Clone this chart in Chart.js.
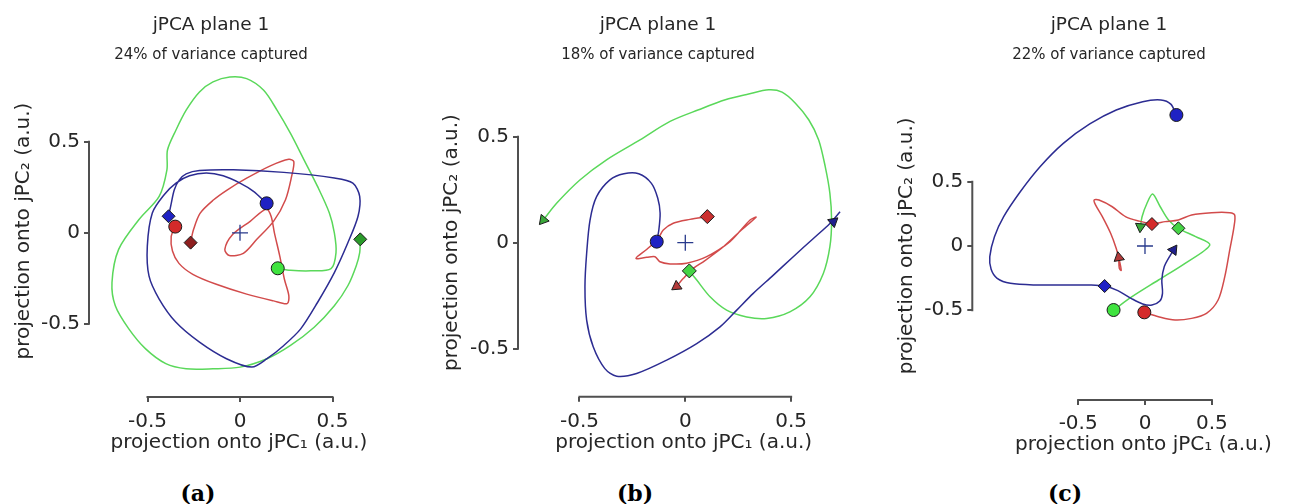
<!DOCTYPE html>
<html>
<head>
<meta charset="utf-8">
<script src="https://cdn.jsdelivr.net/npm/chart.js@4.4.1/dist/chart.umd.min.js"></script>
<style>
  html, body { margin: 0; padding: 0; background: #fff; }
  #fig { position: relative; width: 1296px; height: 504px; overflow: hidden; background: #fff;
         font-family: 'DejaVu Sans', sans-serif; color: #262626; }
  canvas { position: absolute; top: 0; }
  .ttl { position: absolute; width: 300px; text-align: center; line-height: 1; white-space: nowrap; }
  .main { font-size: 18.5px; top: 14.7px; }
  .sub { font-size: 15px; top: 47px; }
  .tag { position: absolute; width: 80px; text-align: center; line-height: 1; top: 482px;
         font-family: 'DejaVu Serif', serif; font-weight: bold; font-size: 22px; color: #000; }
</style>
</head>
<body>
<div id="fig">
  <canvas id="cA" width="400" height="460"></canvas>
  <canvas id="cB" width="432" height="460"></canvas>
  <canvas id="cC" width="460" height="460"></canvas>
</div>
<script>
// values, projections in a.u.
const tickVals = [-0.5, 0, 0.5];
const panelTitle = 'jPCA plane 1';
const variancePct = [24, 18, 22];
const panelTags = ['(a)', '(b)', '(c)'];
const origin = [[0, 0]];

// (a)
const aBlue = [[0.144,0.162],[0.073,0.228],[0,0.273],[-0.091,0.313],[-0.182,0.328],[-0.273,0.313],[-0.346,0.273],
  [-0.410,0.209],[-0.474,0.109],[-0.501,-0.073],[-0.492,-0.237],[-0.437,-0.364],[-0.346,-0.492],[-0.219,-0.601],
  [-0.073,-0.692],[0.064,-0.738],[0.146,-0.692],[0.237,-0.619],[0.328,-0.528],[0.419,-0.383],[0.510,-0.219],
  [0.583,-0.055],[0.638,0.091],[0.647,0.200],[0.610,0.273],[0.510,0.301],[0.237,0.332],[-0.036,0.346],
  [-0.219,0.342],[-0.291,0.324],[-0.328,0.291],[-0.355,0.237],[-0.373,0.155],[-0.386,0.091]];
const aRed = [[-0.350,0.034],[-0.372,-0.020],[-0.365,-0.100],[-0.330,-0.168],[-0.255,-0.228],[-0.128,-0.283],
  [0.036,-0.337],[0.182,-0.374],[0.255,-0.389],[0.264,-0.346],[0.240,-0.255],[0.215,-0.128],[0.186,0],
  [0.168,0.091],[0.142,0.131],[0.055,0.063],[-0.040,-0.010],[-0.082,-0.091],[-0.058,-0.125],[0.018,-0.113],
  [0.091,-0.036],[0.182,0.064],[0.246,0.182],[0.279,0.310],[0.291,0.391],[0.264,0.404],[0.164,0.368],
  [0.036,0.300],[-0.070,0.235],[-0.144,0.180],[-0.216,0.107],[-0.252,0.015],[-0.267,-0.054]];
const aGreen = [[0.204,-0.195],[0.273,-0.206],[0.383,-0.209],[0.492,-0.197],[0.519,-0.109],[0.510,0],
  [0.483,0.109],[0.419,0.255],[0.346,0.401],[0.273,0.546],[0.200,0.674],[0.128,0.783],[0.036,0.847],
  [-0.055,0.856],[-0.146,0.829],[-0.219,0.774],[-0.291,0.674],[-0.346,0.565],[-0.392,0.455],[-0.395,0.346],
  [-0.437,0.200],[-0.546,0.073],[-0.656,-0.091],[-0.692,-0.273],[-0.674,-0.401],[-0.601,-0.528],
  [-0.510,-0.638],[-0.401,-0.719],[-0.291,-0.747],[-0.146,-0.747],[0,-0.738],[0.146,-0.692],[0.273,-0.619],
  [0.401,-0.519],[0.510,-0.401],[0.583,-0.291],[0.628,-0.182],[0.647,-0.109],[0.650,-0.036]];
const aCircles = [[0.144,0.162],[-0.350,0.034],[0.204,-0.195]];
const aDiamonds = [[-0.386,0.091],[-0.267,-0.054],[0.650,-0.036]];
const aArrows = [];

// (b)
const bBlue = [[-0.135,0.005],[-0.125,0.060],[-0.119,0.140],[-0.130,0.210],[-0.160,0.280],[-0.220,0.325],
  [-0.290,0.325],[-0.356,0.296],[-0.419,0.217],[-0.450,0.107],[-0.466,-0.050],[-0.474,-0.208],[-0.466,-0.365],
  [-0.435,-0.491],[-0.380,-0.594],[-0.324,-0.630],[-0.230,-0.617],[-0.088,-0.554],[0.054,-0.476],[0.164,-0.397],
  [0.243,-0.318],[0.321,-0.239],[0.416,-0.153],[0.510,-0.066],[0.605,0.020],[0.683,0.091],[0.731,0.146]];
const bRed = [[0.104,0.123],[0.022,0.110],[-0.057,0.092],[-0.104,0.060],[-0.128,0.020],[-0.180,-0.030],
  [-0.233,-0.074],[-0.182,-0.069],[-0.143,-0.066],[-0.120,-0.090],[-0.072,-0.100],[0.006,-0.097],[0.101,-0.066],
  [0.211,0.005],[0.306,0.107],[0.334,0.120],[0.260,0.055],[0.180,-0.019],[0.085,-0.090],[0.038,-0.121],
  [-0.009,-0.168],[-0.041,-0.206]];
const bGreen = [[-0.671,0.107],[-0.608,0.186],[-0.498,0.296],[-0.372,0.391],[-0.214,0.485],[-0.072,0.572],
  [0.063,0.627],[0.189,0.674],[0.299,0.701],[0.394,0.721],[0.457,0.710],[0.520,0.658],[0.583,0.580],
  [0.630,0.485],[0.661,0.359],[0.683,0.233],[0.691,0.107],[0.683,-0.019],[0.652,-0.145],[0.589,-0.255],
  [0.494,-0.326],[0.384,-0.357],[0.290,-0.350],[0.195,-0.318],[0.117,-0.255],[0.054,-0.176],[0.019,-0.133]];
const bCircles = [[-0.135,0.005]];
const bDiamonds = [[0.104,0.123],[0.019,-0.133]];
const bArrows = [[-0.671,0.107],[-0.041,-0.206],[0.699,0.099]];

// (c)
const cBlue = [[0.235,1.021],[0.193,1.106],[0.119,1.138],[-0.017,1.125],[-0.215,1.060],[-0.413,0.951],
  [-0.611,0.800],[-0.785,0.618],[-0.933,0.423],[-1.057,0.229],[-1.126,0.073],[-1.161,-0.083],[-1.151,-0.182],
  [-1.106,-0.252],[-1.007,-0.291],[-0.809,-0.304],[-0.611,-0.304],[-0.413,-0.304],[-0.302,-0.312],
  [-0.203,-0.348],[-0.104,-0.408],[-0.017,-0.452],[0.052,-0.460],[0.111,-0.429],[0.131,-0.369],
  [0.126,-0.265],[0.144,-0.161],[0.186,-0.078],[0.230,-0.005]];
const cRed = [[-0.005,-0.517],[0.101,-0.551],[0.225,-0.577],[0.349,-0.564],[0.460,-0.525],[0.547,-0.421],
  [0.597,-0.239],[0.634,-0.031],[0.666,0.151],[0.671,0.242],[0.634,0.260],[0.498,0.260],[0.349,0.242],
  [0.250,0.203],[0.151,0.190],[0.052,0.175],[-0.047,0.195],[-0.146,0.229],[-0.245,0.306],[-0.344,0.358],
  [-0.381,0.358],[-0.369,0.319],[-0.319,0.229],[-0.257,0.099],[-0.215,-0.020],[-0.190,-0.120],
  [-0.178,-0.190],[-0.192,-0.175],[-0.196,-0.100]];
const cGreen = [[-0.235,-0.499],[-0.097,-0.395],[0.101,-0.265],[0.300,-0.135],[0.485,0.008],[0.379,0.073],
  [0.250,0.138],[0.176,0.203],[0.114,0.306],[0.057,0.405],[0.015,0.333],[-0.022,0.228],[-0.034,0.150]];
const cCircles = [[0.235,1.021],[-0.235,-0.499],[-0.005,-0.517]];
const cDiamonds = [[-0.302,-0.312],[0.052,0.171],[0.250,0.138]];
const cArrows = [[-0.196,-0.090],[-0.034,0.150],[0.213,-0.031]];

// colours
const AXIS = '#505050';
const TEXT = '#262626';
const LINE = { blue: '#2c2c92', red: '#d24b4b', green: '#5ad85a' };
const FILL = { blue: '#1f22c4', red: '#d42a2a', green: '#3fe33f', dkRed: '#8e1f1f', dkGreen: '#2a9a2a',
               midRed: '#cc3030', midGreen: '#45d445', arBlue: '#20208f', arRed: '#b33a3a', arGreen: '#3aa83a' };

Chart.defaults.font.family = "'DejaVu Sans', sans-serif";

// axis lines only between the outer ticks, like the original
const rangeFrame = {
  id: 'rangeFrame',
  beforeDatasetsDraw(chart) {
    const { ctx, chartArea, scales: { x, y } } = chart;
    const lo = tickVals[0], hi = tickVals[tickVals.length - 1];
    ctx.save();
    ctx.strokeStyle = AXIS;
    ctx.lineWidth = 2;
    ctx.beginPath();
    ctx.moveTo(x.getPixelForValue(lo) - 1, chartArea.bottom);
    ctx.lineTo(x.getPixelForValue(hi) + 1, chartArea.bottom);
    ctx.moveTo(chartArea.left, y.getPixelForValue(lo) + 1);
    ctx.lineTo(chartArea.left, y.getPixelForValue(hi) - 1);
    ctx.stroke();
    ctx.restore();
  }
};

const pts = arr => arr.map(([x, y]) => ({ x, y }));

function curve(arr, color) {
  return { data: pts(arr), showLine: true, borderColor: color, borderWidth: 1.5, pointRadius: 0,
           pointHoverRadius: 0, tension: 0.3, clip: false, order: 1 };
}

function marks(arr, style, fills, radius, rot) {
  return { data: pts(arr), showLine: false, pointStyle: style, pointRadius: radius, pointHoverRadius: radius,
           pointBackgroundColor: fills, pointBorderColor: '#1a1a1a', pointBorderWidth: 1,
           pointRotation: rot || 0, clip: false, order: 0 };
}

function cross() {
  return { data: pts(origin), showLine: false, pointStyle: 'cross', pointRadius: 8, pointHoverRadius: 8,
           pointBorderColor: '#283a8c', pointBorderWidth: 1.3, clip: false, order: 0 };
}

// page geometry of each panel (pixels)
const panels = [
  { id: 'cA', left: 0, W: 400, H: 460, l: 89, r: 389, t: 65, b: 397, ox: 240, oy: 232.8, kx: 185, ky: 182,
    padL: 0, yTitlePad: 12, xTitlePad: 2, xTickPad: 8, titleX: 211, tagX: 198 },
  { id: 'cB', left: 432, W: 432, H: 460, l: 518, r: 849.4, t: 88.3, b: 396.7, ox: 685.3, oy: 242.7, kx: 211.7, ky: 212,
    padL: 0, yTitlePad: 8, xTitlePad: 1.7, xTickPad: 8, titleX: 658, tagX: 635 },
  { id: 'cC', left: 864, W: 460, H: 460, l: 972.3, r: 1317.3, t: 91.7, b: 400, ox: 1146.3, oy: 246, kx: 134.7, ky: 128.3,
    padL: 20, yTitlePad: 10.7, xTitlePad: 3, xTickPad: 6.3, titleX: 1109, tagX: 1065 }
];

const panelData = [
  [
    marks(aCircles, 'circle', [FILL.blue, FILL.red, FILL.green], 6.5),
    marks(aDiamonds, 'rectRot', [FILL.blue, FILL.dkRed, FILL.dkGreen], 6.5),
    marks(aArrows, 'triangle', [], 6),
    cross(),
    curve(aBlue, LINE.blue), curve(aRed, LINE.red), curve(aGreen, LINE.green)
  ],
  [
    marks(bCircles, 'circle', [FILL.blue], 6.5),
    marks(bDiamonds, 'rectRot', [FILL.midRed, FILL.midGreen], 7),
    marks(bArrows, 'triangle', [FILL.arGreen, FILL.arRed, FILL.arBlue], 6, [-20, 235, 50]),
    cross(),
    curve(bBlue, LINE.blue), curve(bRed, LINE.red), curve(bGreen, LINE.green)
  ],
  [
    marks(cCircles, 'circle', [FILL.blue, FILL.green, FILL.red], 6.5),
    marks(cDiamonds, 'rectRot', [FILL.blue, FILL.red, FILL.midGreen], 6.5),
    marks(cArrows, 'triangle', [FILL.arRed, FILL.arGreen, FILL.arBlue], 6, [-10, 185, 35]),
    cross(),
    curve(cBlue, LINE.blue), curve(cRed, LINE.red), curve(cGreen, LINE.green)
  ]
];

function axisOpts(isX, p) {
  const yW = p.l - p.left - p.padL;
  return {
    type: 'linear',
    position: isX ? 'bottom' : 'left',
    min: isX ? (p.l - p.ox) / p.kx : (p.oy - p.b) / p.ky,
    max: isX ? (p.r - p.ox) / p.kx : (p.oy - p.t) / p.ky,
    border: { display: false },
    grid: { drawOnChartArea: false, drawTicks: true, tickLength: 5, color: AXIS, lineWidth: 2 },
    ticks: { font: { size: 20 }, color: TEXT, padding: isX ? p.xTickPad : 4, maxRotation: 0, autoSkip: false },
    title: {
      display: true,
      text: isX ? 'projection onto jPC\u2081 (a.u.)' : 'projection onto jPC\u2082 (a.u.)',
      font: { size: 20 }, color: TEXT,
      padding: isX ? { top: 0, bottom: p.xTitlePad } : { top: p.yTitlePad, bottom: 0 }
    },
    afterBuildTicks: s => { s.ticks = tickVals.map(v => ({ value: v })); },
    afterFit: s => {
      if (isX) s.height = 60; else s.width = yW;
      s.paddingLeft = s.paddingRight = s.paddingTop = s.paddingBottom = 0;
    }
  };
}

const fig = document.getElementById('fig');
function addText(txt, cls, cx, w) {
  const d = document.createElement('div');
  d.className = cls;
  d.textContent = txt;
  d.style.left = (cx - w / 2) + 'px';
  fig.appendChild(d);
}

panels.forEach((p, i) => {
  const canvas = document.getElementById(p.id);
  canvas.style.left = p.left + 'px';
  new Chart(canvas, {
    type: 'scatter',
    data: { datasets: panelData[i] },
    options: {
      responsive: false,
      animation: false,
      events: [],
      layout: { padding: { left: p.padL, right: p.left + p.W - p.r, top: p.t, bottom: p.H - p.b - 60 } },
      plugins: { legend: { display: false }, tooltip: { enabled: false } },
      scales: { x: axisOpts(true, p), y: axisOpts(false, p) }
    },
    plugins: [rangeFrame]
  });
  addText(panelTitle, 'ttl main', p.titleX, 300);
  addText(variancePct[i] + '% of variance captured', 'ttl sub', p.titleX, 300);
  addText(panelTags[i], 'tag', p.tagX, 80);
});
</script>
</body>
</html>
